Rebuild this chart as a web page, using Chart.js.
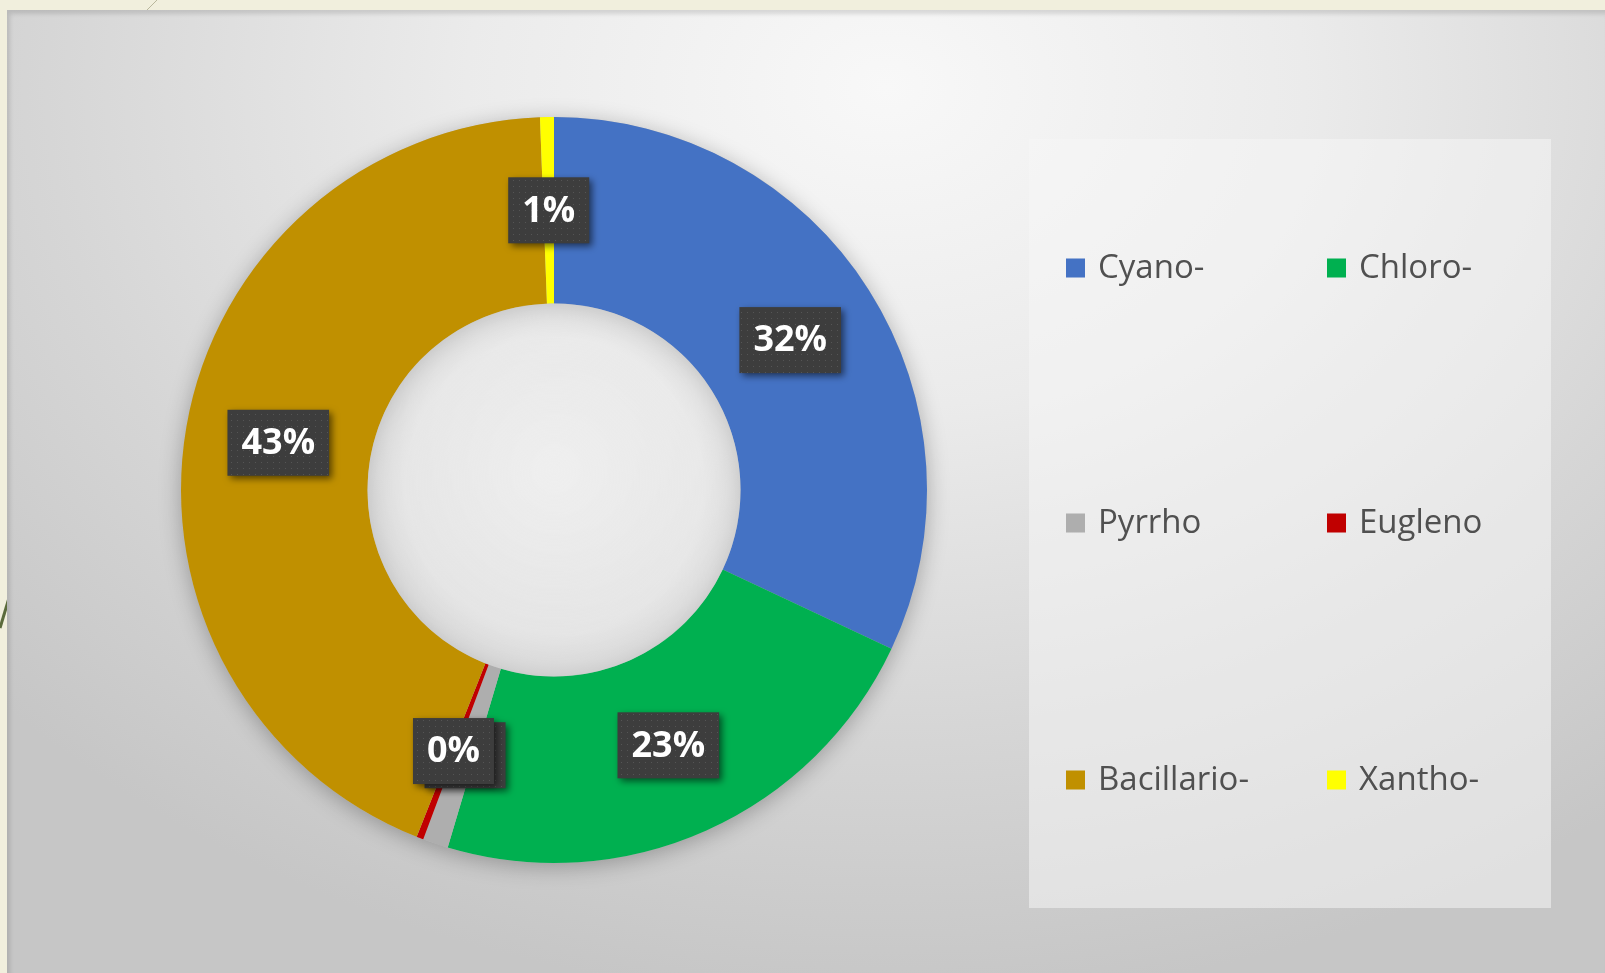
<!DOCTYPE html>
<html>
<head>
<meta charset="utf-8">
<script src="https://cdn.jsdelivr.net/npm/chart.js@4/dist/chart.umd.min.js"></script>
<style>
  html, body {
    margin: 0;
    padding: 0;
    width: 1605px;
    height: 973px;
    overflow: hidden;
    background: #f1efdd;
  }
  #deco {
    position: absolute;
    left: 0;
    top: 0;
  }
  #panel {
    position: absolute;
    left: 7px;
    top: 10px;
    width: 1598px;
    height: 963px;
    background: radial-gradient(ellipse 75% 95% at 55% 8%, #f8f8f8 0%, #ebebeb 35%, #d6d6d6 70%, #c6c6c6 100%);
    box-shadow: inset 3px 4px 4px rgba(0, 0, 0, 0.12);
  }
  #chart {
    position: absolute;
    left: 0;
    top: 0;
  }
</style>
</head>
<body>
<svg id="deco" width="1605" height="973">
  <line x1="157" y1="0" x2="146" y2="11" stroke="#b9b79c" stroke-width="1" />
  <line x1="0" y1="628" x2="9" y2="598" stroke="#5b6b3c" stroke-width="3" />
</svg>
<div id="panel">
  <canvas id="chart" width="1598" height="963"></canvas>
</div>
<script>
const categories = ["Cyano-", "Chloro-", "Pyrrho", "Eugleno", "Bacillario-", "Xantho-"];
const shares = [32.0, 22.6, 1.1, 0.3, 43.4, 0.6];
const sliceColors = ["#4472c4", "#00b050", "#aeaeae", "#c00000", "#c09000", "#ffff00"];

const total = shares.reduce((sum, v) => sum + v, 0);

function percentText(v) {
  return Math.round((v / total) * 100) + "%";
}

// dotted dark fill for the value boxes
function makeBoxPattern(ctx) {
  const tile = document.createElement("canvas");
  tile.width = 6;
  tile.height = 6;
  const t = tile.getContext("2d");
  t.fillStyle = "#3d3d3d";
  t.fillRect(0, 0, 6, 6);
  t.fillStyle = "#555555";
  t.fillRect(2, 2, 1, 1);
  return ctx.createPattern(tile, "repeat");
}

// soft shadow under the ring, and a shaded hole
const ringShadow = {
  id: "ringShadow",
  beforeDatasetsDraw(chart) {
    const arc = chart.getDatasetMeta(0).data[0];
    if (!arc) return;
    const ctx = chart.ctx;
    ctx.save();
    ctx.beginPath();
    ctx.arc(arc.x, arc.y, arc.outerRadius, 0, Math.PI * 2);
    ctx.arc(arc.x, arc.y, arc.innerRadius, 0, Math.PI * 2, true);
    ctx.shadowColor = "rgba(0, 0, 0, 0.28)";
    ctx.shadowBlur = 22;
    ctx.shadowOffsetY = 4;
    ctx.fillStyle = "#bbbbbb";
    ctx.fill();
    ctx.restore();
  },
  afterDatasetsDraw(chart) {
    const arc = chart.getDatasetMeta(0).data[0];
    if (!arc) return;
    const ctx = chart.ctx;
    ctx.save();
    const g = ctx.createRadialGradient(arc.x, arc.y - 20, 0, arc.x, arc.y, arc.innerRadius);
    g.addColorStop(0, "rgba(240, 240, 240, 0.9)");
    g.addColorStop(0.8, "rgba(234, 234, 234, 0.7)");
    g.addColorStop(1, "rgba(215, 215, 215, 0.6)");
    ctx.beginPath();
    ctx.arc(arc.x, arc.y, arc.innerRadius, 0, Math.PI * 2);
    ctx.fillStyle = g;
    ctx.fill();
    ctx.restore();
  }
};

// percentage boxes at the middle of each slice
const valueBoxes = {
  id: "valueBoxes",
  afterDatasetsDraw(chart) {
    const ctx = chart.ctx;
    const pattern = makeBoxPattern(ctx);
    const arcs = chart.getDatasetMeta(0).data;
    ctx.save();
    ctx.font = "bold 36px 'Open Sans', 'DejaVu Sans', sans-serif";
    ctx.textAlign = "center";
    ctx.textBaseline = "middle";
    arcs.forEach((arc, i) => {
      const p = arc.getCenterPoint();
      const text = percentText(shares[i]);
      const w = ctx.measureText(text).width + 28;
      const h = 66;
      ctx.save();
      ctx.shadowColor = "rgba(0, 0, 0, 0.55)";
      ctx.shadowBlur = 7;
      ctx.shadowOffsetX = 3;
      ctx.shadowOffsetY = 3;
      ctx.fillStyle = pattern;
      ctx.fillRect(p.x - w / 2, p.y - h / 2, w, h);
      ctx.restore();
      ctx.fillStyle = "#ffffff";
      ctx.fillText(text, p.x, p.y + 1);
    });
    ctx.restore();
  }
};

// two-column legend in a light box on the right
const gridLegend = {
  id: "gridLegend",
  afterDraw(chart) {
    const ctx = chart.ctx;
    const boxX = 1022, boxY = 129, boxW = 522, boxH = 769;
    const colSquare = [1059, 1320];
    const rowY = [258, 513, 770];
    const sq = 19;
    ctx.save();
    ctx.fillStyle = "rgba(246, 246, 246, 0.55)";
    ctx.fillRect(boxX, boxY, boxW, boxH);
    ctx.font = "33px 'Open Sans', 'DejaVu Sans', sans-serif";
    ctx.textBaseline = "middle";
    ctx.textAlign = "left";
    categories.forEach((name, i) => {
      const x = colSquare[i % 2];
      const y = rowY[Math.floor(i / 2)];
      ctx.fillStyle = sliceColors[i];
      ctx.fillRect(x, y - sq / 2, sq, sq);
      ctx.fillStyle = "#505050";
      ctx.fillText(name, x + sq + 13, y + 1);
    });
    ctx.restore();
  }
};

new Chart(document.getElementById("chart"), {
  type: "doughnut",
  data: {
    labels: categories,
    datasets: [
      {
        data: shares,
        backgroundColor: sliceColors,
        borderWidth: 0,
        hoverOffset: 0
      }
    ]
  },
  options: {
    responsive: false,
    animation: false,
    cutout: "50%",
    layout: {
      padding: { left: 174, top: 107, right: 678, bottom: 110 }
    },
    plugins: {
      legend: { display: false },
      tooltip: { enabled: false }
    }
  },
  plugins: [ringShadow, valueBoxes, gridLegend]
});
</script>
</body>
</html>
